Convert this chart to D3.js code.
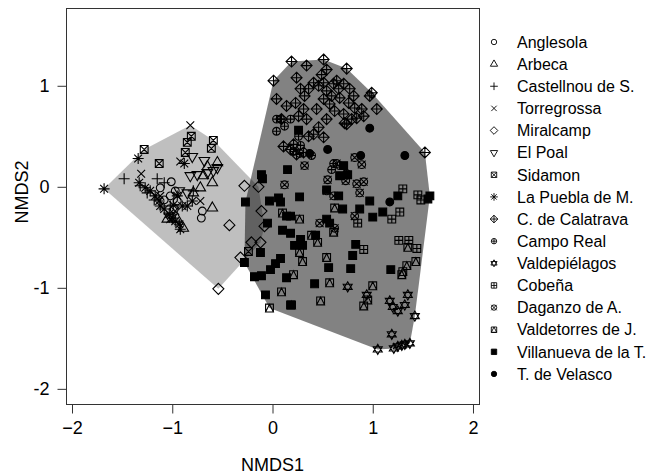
<!DOCTYPE html>
<html>
<head>
<meta charset="utf-8">
<script src="https://cdn.jsdelivr.net/npm/d3@7"></script>
<style>
body { margin: 0; background: #fff; }
text { font-family: "Liberation Sans", Arial, Helvetica, sans-serif; fill: #000; }
</style>
</head>
<body>
<svg id="grafico"></svg>
<script>
// coordenadas NMDS, uma lista por localidade
const anglesola = [[-1.01,0.05],[-0.70,-0.24],[-0.71,-0.31],[-0.97,-0.04],[-1.02,-0.09],[-0.95,-0.14],[-1.12,-0.01],[-0.98,-0.22],[-1.08,-0.13]];
const arbeca = [[-0.60,0.04],[-0.60,-0.21],[-0.65,0.20],[-0.72,-0.01],[-0.69,0.11],[-0.89,-0.41],[-0.95,-0.32],[-1.05,-0.32],[-0.79,-0.06],[-0.55,0.24]];
const castellnou = [[-1.48,0.08],[-1.15,0.08],[-1.08,0.04],[-1.32,0.01],[-1.25,-0.06],[-0.79,-0.04],[-1.18,-0.13],[-1.02,-0.19]];
const torregrossa = [[-0.82,0.61],[-1.31,0.13],[-0.92,0.25],[-1.12,-0.09],[-1.02,-0.32],[-0.72,-0.14],[-0.97,-0.24]];
const miralcamp = [[-0.28,0.01],[-0.14,0.00],[-0.43,-0.38],[-0.11,-0.24],[-0.21,-0.55],[-0.12,-0.55],[-0.32,-0.70],[-0.54,-1.01],[-0.08,-0.39]];
const elPoal = [[-0.80,0.30],[-0.68,0.26],[-0.59,0.16],[-0.82,0.11],[-0.75,0.12],[-0.85,-0.06],[-0.93,-0.04],[-0.65,0.14],[-1.03,-0.29],[-0.55,0.19]];
const sidamon = [[-1.28,0.37],[-1.13,0.23],[-0.81,0.50],[-0.85,0.44],[-0.87,0.34],[-0.59,0.46],[-0.61,0.38],[-0.24,-0.64]];
const laPuebla = [[-1.68,-0.02],[-1.34,0.28],[-0.88,0.23],[-1.33,0.04],[-1.27,-0.01],[-1.22,-0.04],[-1.17,-0.09],[-1.13,-0.14],[-1.12,-0.19],[-1.08,-0.22],[-1.03,-0.27],[-1.00,-0.31],[-0.97,-0.34],[-0.93,-0.37],[-0.92,-0.42],[-0.90,-0.19],[-0.95,-0.09],[-0.85,-0.19],[-0.99,-0.18],[-0.80,-0.14]];
const calatrava = [[0.01,1.05],[0.19,1.24],[0.34,1.20],[0.51,1.26],[0.74,1.17],[0.54,1.16],[0.49,1.11],[0.64,1.05],[0.71,1.02],[0.77,0.97],[0.99,0.93],[1.04,0.77],[1.52,0.34],[0.24,1.08],[0.28,0.97],[0.36,0.97],[0.46,1.00],[0.54,0.95],[0.59,0.90],[0.67,0.88],[0.76,0.83],[0.82,0.78],[0.89,0.77],[0.91,0.70],[0.04,0.87],[0.23,0.83],[0.31,0.77],[0.44,0.77],[0.51,0.87],[0.57,0.82],[0.62,0.75],[0.71,0.72],[0.79,0.67],[0.74,0.62],[0.14,0.80],[0.09,0.67],[0.34,0.67],[0.26,0.70],[0.54,0.67],[0.46,0.59],[0.41,0.52],[0.51,0.49],[0.36,0.50],[0.21,0.42],[0.18,0.37],[0.11,0.40],[0.24,0.32],[0.31,0.34],[0.97,0.90],[0.72,0.63],[0.84,0.68],[0.66,0.97],[0.61,1.02],[0.41,1.03],[0.32,0.90],[0.81,0.90],[0.51,1.03]];
const campoReal = [[0.04,0.55],[0.12,0.60],[0.08,0.67],[0.26,0.50],[0.28,0.41],[0.21,0.35],[0.27,0.33],[0.39,0.31],[0.61,0.23],[0.59,0.17],[0.67,0.21],[0.74,0.13],[0.18,0.67],[0.04,0.67]];
const valdepielagos = [[0.75,-0.99],[0.94,-1.07],[1.17,-1.13],[1.20,-1.19],[1.25,-1.23],[1.32,-1.17],[1.35,-1.07],[1.42,-1.28],[1.19,-1.46],[1.05,-1.61],[1.21,-1.60],[1.25,-1.58],[1.29,-1.57],[1.32,-1.56],[1.37,-1.55]];
const cobena = [[1.30,-0.02],[1.45,-0.08],[1.48,-0.13],[1.27,-0.25],[1.19,-0.32],[0.85,-0.36],[1.26,-0.53],[1.36,-0.53],[1.44,-0.61],[0.91,-0.62]];
const daganzo = [[0.32,0.21],[0.12,0.02],[0.55,0.07],[0.54,-0.04],[0.61,-0.09],[0.84,0.03],[0.91,0.05],[0.87,-0.06],[0.73,0.06],[0.82,-0.29],[0.47,-0.36],[0.62,-0.41],[0.89,0.22],[0.82,0.29],[0.64,0.23]];
const valdetorres = [[0.10,-0.26],[0.27,-0.32],[0.62,-0.21],[0.61,-0.45],[0.39,-0.48],[0.45,-0.55],[0.27,-0.65],[0.30,-0.74],[0.54,-0.70],[0.21,-0.87],[0.09,-1.04],[-0.03,-1.20],[0.57,-0.95],[0.48,-1.13],[1.00,-0.98],[1.34,-0.78],[1.30,-0.84],[1.29,-0.87],[1.35,-0.60],[1.43,-0.74],[0.91,-1.18],[0.95,-1.12],[0.19,-1.17]];
const villanueva = [[0.26,0.56],[0.15,0.17],[-0.11,0.12],[-0.10,0.08],[-0.27,-0.15],[-0.03,-0.14],[0.06,-0.11],[0.08,-0.15],[0.27,-0.10],[0.71,0.21],[0.75,0.12],[0.67,0.11],[0.54,-0.03],[0.66,-0.09],[0.97,-0.14],[0.70,-0.22],[0.87,-0.22],[1.10,-0.25],[1.00,-0.30],[1.25,-0.09],[1.57,-0.09],[1.55,-0.12],[0.14,-0.29],[0.18,-0.29],[0.54,-0.32],[0.57,-0.36],[-0.05,-0.36],[0.10,-0.43],[0.18,-0.46],[0.28,-0.52],[0.22,-0.58],[0.30,-0.58],[0.43,-0.48],[0.83,-0.57],[0.80,-0.68],[0.78,-0.81],[0.56,-0.80],[0.08,-0.71],[0.03,-0.76],[-0.02,-0.82],[0.14,-0.90],[-0.12,-0.65],[-0.28,-0.75],[-0.18,-0.89],[-0.11,-0.88],[-0.07,-1.07],[0.18,-1.17],[0.42,-0.96],[1.18,-0.82]];
const velasco = [[0.97,0.58],[0.55,0.37],[0.88,0.31],[1.32,0.31],[1.17,-0.15],[0.37,0.33]];

const nomes = ['Anglesola','Arbeca','Castellnou de S.','Torregrossa','Miralcamp','El Poal','Sidamon','La Puebla de M.',
  'C. de Calatrava','Campo Real','Valdepiélagos','Cobeña','Daganzo de A.','Valdetorres de J.','Villanueva de la T.','T. de Velasco'];
const series = [anglesola, arbeca, castellnou, torregrossa, miralcamp, elPoal, sidamon, laPuebla,
  calatrava, campoReal, valdepielagos, cobena, daganzo, valdetorres, villanueva, velasco];
const ticksX = [-2, -1, 0, 1, 2];
const ticksY = [-2, -1, 0, 1];

let largura = 655, altura = 475;
let svg = d3.select('#grafico').attr('width', largura).attr('height', altura);

let caixa = { esquerda: 66, direita: 479, superior: 8, inferior: 404 };

let fnX = d3.scaleLinear().domain([-2.06, 2.06]).range([caixa.esquerda, caixa.direita]);
let fnY = d3.scaleLinear().domain([-2.15, 1.77]).range([caixa.inferior, caixa.superior]);

// simbolos pch do R
function simbolo(pch, R) {
    let p = d3.path();
    let q = Math.SQRT2 * R;
    let circ = (a) => { p.moveTo(a, 0); p.arc(0, 0, a, 0, 2 * Math.PI); };
    let mais = (a) => { p.moveTo(-a, 0); p.lineTo(a, 0); p.moveTo(0, -a); p.lineTo(0, a); };
    let xis = (a) => { p.moveTo(-a, -a); p.lineTo(a, a); p.moveTo(-a, a); p.lineTo(a, -a); };
    let quad = (a) => { p.rect(-a, -a, 2 * a, 2 * a); };
    let losango = (a) => { p.moveTo(0, -a); p.lineTo(a, 0); p.lineTo(0, a); p.lineTo(-a, 0); p.closePath(); };
    let tri = (s) => {
        p.moveTo(0, -s * 1.555 * R); p.lineTo(1.347 * R, s * 0.778 * R); p.lineTo(-1.347 * R, s * 0.778 * R); p.closePath();
    };
    switch (pch) {
        case 1: circ(R); break;
        case 2: tri(1); break;
        case 3: mais(q); break;
        case 4: xis(R); break;
        case 5: losango(q); break;
        case 6: tri(-1); break;
        case 7: quad(R); xis(R); break;
        case 8: xis(R); mais(q); break;
        case 9: losango(q); mais(q); break;
        case 10: circ(R); mais(R); break;
        case 11:
            p.moveTo(0, -1.3 * R); p.lineTo(1.15 * R, 0.65 * R); p.lineTo(-1.15 * R, 0.65 * R); p.closePath();
            p.moveTo(0, 1.3 * R); p.lineTo(1.15 * R, -0.65 * R); p.lineTo(-1.15 * R, -0.65 * R); p.closePath();
            break;
        case 12: quad(R); mais(R); break;
        case 13: circ(R); xis(R); break;
        case 14: quad(R); p.moveTo(0, -R); p.lineTo(R, R); p.lineTo(-R, R); p.closePath(); break;
        case 15: quad(R); break;
        case 16: circ(R); break;
    }
    return p.toString();
}

// envoltorias convexas dos dois grupos
let grupos = [
    { pontos: series.slice(0, 8).flat(), opacidade: 0.25 },
    { pontos: series.slice(8).flat(), opacidade: 0.49 }
];
grupos.forEach(g => {
    let casco = d3.polygonHull(g.pontos.map(d => [fnX(d[0]), fnY(d[1])]));
    svg.append('path')
        .attr('d', 'M' + casco.join('L') + 'Z')
        .attr('fill', '#000')
        .attr('fill-opacity', g.opacidade)
        .attr('stroke', 'none');
});

// pontos
series.forEach((dados, i) => {
    let pch = i + 1;
    let cheio = pch >= 15;
    svg.append('g').selectAll('path').data(dados).enter().append('path')
        .attr('d', simbolo(pch, 3.9))
        .attr('transform', d => 'translate(' + fnX(d[0]) + ',' + fnY(d[1]) + ')')
        .attr('fill', cheio ? '#000' : 'none')
        .attr('stroke', '#000')
        .attr('stroke-width', 1.1);
});

// moldura
svg.append('rect')
    .attr('x', caixa.esquerda + 0.5).attr('y', caixa.superior + 0.5)
    .attr('width', caixa.direita - caixa.esquerda).attr('height', caixa.inferior - caixa.superior)
    .attr('fill', 'none').attr('stroke', '#333').attr('stroke-width', 1);

// eixos
let eixoX = svg.append('g')
    .attr('transform', 'translate(0,' + (caixa.inferior + 0.5) + ')')
    .call(d3.axisBottom(fnX).tickValues(ticksX).tickSize(9).tickPadding(8).tickFormat(d3.format('d')));
let eixoY = svg.append('g')
    .attr('transform', 'translate(' + (caixa.esquerda + 0.5) + ',0)')
    .call(d3.axisLeft(fnY).tickValues(ticksY).tickSize(9).tickPadding(8).tickFormat(d => String(d)));
[eixoX, eixoY].forEach(e => {
    e.select('.domain').remove();
    e.selectAll('line').attr('stroke', '#333');
    e.selectAll('text').style('font-size', '18px').attr('fill', '#000')
        .style('font-family', '"Liberation Sans", Arial, sans-serif');
});

svg.append('text')
    .attr('x', fnX(0)).attr('y', 471)
    .style('text-anchor', 'middle').style('font-size', '18px')
    .text('NMDS1');

svg.append('text')
    .attr('transform', 'translate(28,192) rotate(-90)')
    .style('text-anchor', 'middle').style('font-size', '18px')
    .text('NMDS2');

// legenda
let legenda = svg.append('g');
nomes.forEach((nome, i) => {
    let y = 42 + i * 22.13;
    let pch = i + 1;
    legenda.append('path')
        .attr('d', simbolo(pch, 2.7))
        .attr('transform', 'translate(494,' + y + ')')
        .attr('fill', pch >= 15 ? '#000' : 'none')
        .attr('stroke', '#000').attr('stroke-width', 0.9);
    legenda.append('text')
        .attr('x', 517).attr('y', y)
        .attr('dy', '0.36em')
        .style('font-size', '16px')
        .text(nome);
});
</script>
</body>
</html>
